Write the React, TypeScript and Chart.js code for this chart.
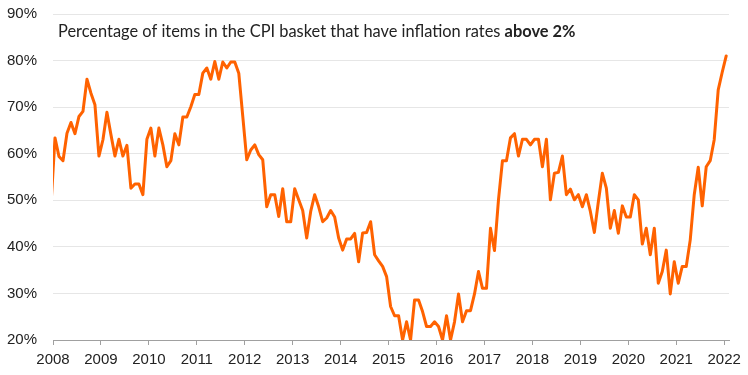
import React, { useEffect, useRef } from "react";
import { Chart, registerables } from "chart.js";

Chart.register(...registerables);

// Year tick labels on the x axis
const years = [2008, 2009, 2010, 2011, 2012, 2013, 2014, 2015, 2016, 2017, 2018, 2019, 2020, 2021, 2022];
// Y axis ticks (percent)
const yTicks = [20, 30, 40, 50, 60, 70, 80, 90];

// Share of CPI items with inflation above 2% (%), monthly
const dec2007 = [49];
const v2008 = [63.4, 59.4, 58.5, 64.4, 66.7, 64.3, 68.0, 69.1, 76.0, 73.0, 70.5, 59.5];
const v2009 = [63.0, 68.9, 64.1, 59.5, 63.1, 59.5, 61.8, 52.6, 53.5, 53.5, 51.2, 63.1];
const v2010 = [65.5, 59.5, 65.5, 61.9, 57.2, 58.5, 64.3, 61.9, 67.9, 67.9, 70.1, 72.7];
const v2011 = [72.7, 77.3, 78.4, 76.0, 79.8, 76.0, 79.7, 78.4, 79.7, 79.7, 77.3, 68.0];
const v2012 = [58.7, 60.8, 61.9, 59.8, 58.7, 48.6, 51.2, 51.2, 46.5, 52.5, 45.4, 45.4];
const v2013 = [52.5, 50.1, 47.8, 41.9, 47.6, 51.2, 48.6, 45.4, 46.2, 47.8, 46.4, 41.9];
const v2014 = [39.3, 41.7, 41.7, 42.9, 36.8, 43.0, 43.1, 45.4, 38.3, 37.0, 35.8, 33.6];
const v2015 = [27.2, 25.2, 25.2, 20.0, 23.9, 20.0, 28.6, 28.6, 26.1, 22.9, 22.9, 23.9];
const v2016 = [22.9, 20.0, 25.2, 20.0, 23.9, 29.9, 23.9, 26.3, 26.3, 29.9, 34.7, 31.1];
const v2017 = [31.1, 44.0, 39.2, 50.1, 58.5, 58.5, 63.4, 64.3, 59.5, 63.1, 63.1, 61.9];
const v2018 = [63.1, 63.1, 57.2, 63.1, 50.1, 55.8, 56.0, 59.5, 51.2, 52.4, 50.1, 51.2];
const v2019 = [48.6, 51.2, 47.6, 43.1, 49.7, 55.8, 52.6, 44.0, 47.8, 42.9, 48.8, 46.4];
const v2020 = [46.4, 51.2, 50.1, 40.6, 44.0, 38.3, 44.0, 32.2, 34.7, 39.3, 29.9, 36.8];
const v2021 = [32.2, 35.8, 35.8, 41.5, 51.2, 57.1, 48.8, 57.2, 58.5, 63.0, 73.7, 77.5];
const v2022 = [81.0];

const titleRegular = "Percentage of items in the CPI basket that have inflation rates ";
const titleBold = "above 2%";

const ORANGE = "#FF6200";
const FONT = "'Liberation Sans', Arial, sans-serif";

const seriesByYear: { year: number; firstMonth: number; values: number[] }[] = [
  { year: 2007, firstMonth: 11, values: dec2007 },
  { year: 2008, firstMonth: 0, values: v2008 },
  { year: 2009, firstMonth: 0, values: v2009 },
  { year: 2010, firstMonth: 0, values: v2010 },
  { year: 2011, firstMonth: 0, values: v2011 },
  { year: 2012, firstMonth: 0, values: v2012 },
  { year: 2013, firstMonth: 0, values: v2013 },
  { year: 2014, firstMonth: 0, values: v2014 },
  { year: 2015, firstMonth: 0, values: v2015 },
  { year: 2016, firstMonth: 0, values: v2016 },
  { year: 2017, firstMonth: 0, values: v2017 },
  { year: 2018, firstMonth: 0, values: v2018 },
  { year: 2019, firstMonth: 0, values: v2019 },
  { year: 2020, firstMonth: 0, values: v2020 },
  { year: 2021, firstMonth: 0, values: v2021 },
  { year: 2022, firstMonth: 0, values: v2022 },
];

// dates plotted at mid-month
const points = seriesByYear.flatMap((s) =>
  s.values.map((v, i) => ({ x: s.year + (s.firstMonth + i + 0.5) / 12, y: v }))
);

const inlineTitle = {
  id: "inlineTitle",
  afterDraw(chart: any) {
    const { ctx, chartArea } = chart;
    ctx.save();
    ctx.fillStyle = "#222";
    ctx.textBaseline = "alphabetic";
    ctx.textAlign = "left";
    const x = chartArea.left + 5;
    const y = chartArea.top + 22.5;
    ctx.font = `16.4px Lato, ${FONT}`;
    ctx.fillText(titleRegular, x, y);
    const w = ctx.measureText(titleRegular).width;
    ctx.font = `bold 16.4px Lato, ${FONT}`;
    ctx.fillText(titleBold, x + w, y);
    ctx.restore();
  },
};

export default function App() {
  const canvasRef = useRef<HTMLCanvasElement | null>(null);

  useEffect(() => {
    if (!canvasRef.current) return;
    const chart = new Chart(canvasRef.current, {
      type: "line",
      data: {
        datasets: [
          {
            data: points,
            borderColor: ORANGE,
            backgroundColor: ORANGE,
            borderWidth: 3,
            pointRadius: 0,
            tension: 0,
            borderJoinStyle: "round",
            borderCapStyle: "round",
          },
        ],
      },
      options: {
        responsive: false,
        animation: false,
        events: [],
        layout: { padding: { left: 0, right: 19, top: 14, bottom: 0 } },
        plugins: {
          legend: { display: false },
          tooltip: { enabled: false },
          title: { display: false },
        },
        scales: {
          x: {
            type: "linear",
            min: 2008,
            max: 2022.1,
            afterBuildTicks: (scale: any) => {
              scale.ticks = years.map((y) => ({ value: y }));
            },
            afterFit: (scale: any) => {
              scale.height = 35;
            },
            ticks: {
              autoSkip: false,
              maxRotation: 0,
              minRotation: 0,
              padding: 6,
              color: "#222",
              font: { family: FONT, size: 15 },
              callback: (v: any) => String(v),
            },
            grid: {
              drawOnChartArea: false,
              drawTicks: true,
              tickLength: 5,
              color: "#a0a0a0",
            },
            border: { display: true, color: "#a0a0a0", width: 1 },
          },
          y: {
            type: "linear",
            min: 20,
            max: 90,
            afterBuildTicks: (scale: any) => {
              scale.ticks = yTicks.map((v) => ({ value: v }));
            },
            afterFit: (scale: any) => {
              scale.width = 53;
              scale.paddingTop = 0;
              scale.paddingBottom = 0;
            },
            ticks: {
              padding: 16,
              color: "#222",
              font: { family: FONT, size: 15 },
              callback: (v: any) => `${v}%`,
            },
            grid: {
              drawTicks: false,
              color: "#e6e6e6",
              lineWidth: 1,
            },
            border: { display: false },
          },
        },
      },
      plugins: [inlineTitle],
    });
    return () => chart.destroy();
  }, []);

  return (
    <div style={{ position: "absolute", left: 0, top: 0, width: 748, height: 375, background: "#fff" }}>
      <canvas ref={canvasRef} width={748} height={375} style={{ display: "block" }} />
    </div>
  );
}
